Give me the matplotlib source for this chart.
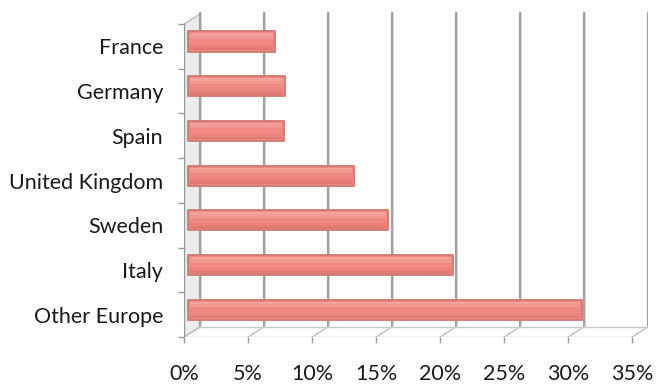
import matplotlib.pyplot as plt
from matplotlib.patches import Polygon

# Data
countries = ["France", "Germany", "Spain", "United Kingdom", "Sweden", "Italy", "Other Europe"]
shares = [6.8, 7.6, 7.5, 13.0, 15.6, 20.7, 30.8]
x_ticks = [0, 5, 10, 15, 20, 25, 30, 35]
x_labels = ["0%", "5%", "10%", "15%", "20%", "25%", "30%", "35%"]

plt.rcParams["font.family"] = ["Lato", "DejaVu Sans"]

fig = plt.figure(figsize=(6.57, 3.85), dpi=100)
ax = fig.add_axes([184 / 657, 48 / 385, 464 / 657, 325 / 385])

n = len(countries)
ypos = list(range(n))
DX, DY = 1.25, -0.224      # depth of the 3D box (back wall offset)
BX, BY = 0.3, -0.11        # bars sit partway into the depth

ax.set_xlim(0, 35 + DX)
ax.set_ylim(n - 0.5, -0.77)

grid_col = "#a3a3a3"
# side wall
side = Polygon([(0, -0.5), (DX, -0.5 + DY), (DX, n - 0.5 + DY), (0, n - 0.5)],
               closed=True, facecolor="#ececec", edgecolor="#bdbdbd", lw=1.0, zorder=1)
ax.add_patch(side)
ax.plot([0, 0], [-0.5, n - 0.5], color="#9a9a9a", lw=1.0, zorder=2)

# back wall gridlines and floor
for x in x_ticks:
    ax.plot([x + DX + 0.06, x + DX + 0.06], [-0.5 + DY - 0.04, n - 0.5 + DY], color="#dddddd", lw=1.6, zorder=1)
    ax.plot([x + DX, x + DX], [-0.5 + DY - 0.05, n - 0.5 + DY], color=grid_col, lw=1.6, zorder=1)
    ax.plot([x, x + DX], [n - 0.5, n - 0.5 + DY], color="#bfbfbf", lw=1.0, zorder=1)
ax.plot([DX, 35 + DX], [n - 0.5 + DY, n - 0.5 + DY], color="#c8c8c8", lw=1.0, zorder=1)
ax.plot([0, 35], [n - 0.5, n - 0.5], color="#bfbfbf", lw=1.0, zorder=1)

# bars, with a soft cylinder-like shading
yb = [y + BY for y in ypos]
ax.barh(yb, shares, left=BX, height=0.45, color="#ee8982", edgecolor="#cf7a73",
        linewidth=1.3, joinstyle="round", zorder=3)
shade = [(-0.15, 0.06, "#f3a29b"), (-0.09, 0.07, "#f19891"),
         (0.10, 0.06, "#e9827b"), (0.16, 0.06, "#e07a73")]
for off, h, c in shade:
    ax.barh([y + off for y in yb], [s - 0.3 for s in shares], left=BX + 0.15, height=h,
            color=c, linewidth=0, zorder=4)

for s in ax.spines.values():
    s.set_visible(False)

ax.set_xticks(x_ticks)
ax.set_xticklabels(x_labels, fontsize=15.5, color="#1a1a1a")
ax.tick_params(axis="x", length=4.5, width=1, color="#9a9a9a", pad=15)

ax.set_yticks(ypos)
ax.set_yticklabels(countries, fontsize=15.5, color="#1a1a1a")
ax.set_yticks([y - 0.5 for y in range(n + 1)], minor=True)
ax.tick_params(axis="y", which="major", length=0, pad=15)
ax.tick_params(axis="y", which="minor", length=4, width=1, color="#9a9a9a")

fig.savefig("out.png", dpi=100)
